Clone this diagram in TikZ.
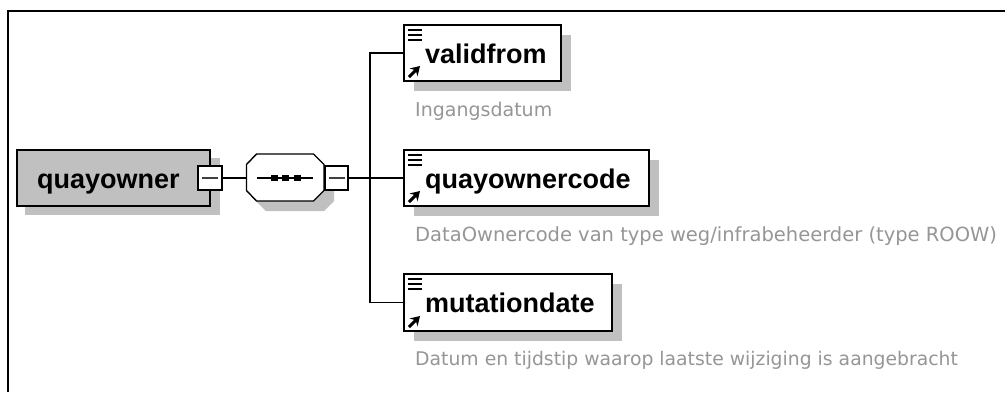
\documentclass[tikz,border=0pt]{standalone}
\usetikzlibrary{arrows.meta}
\usepackage{fontspec}
\setmainfont{Liberation Sans}
\newfontfamily\descfont{DejaVu Sans}
\definecolor{shadowgray}{RGB}{192,192,192}
\definecolor{desctext}{RGB}{150,150,150}
\tikzset{
  x=1pt,y=-1pt,
  wire/.style={draw=black,line width=1.4pt},
  boxline/.style={draw=black,line width=2pt,outer sep=0pt},
  shadowfill/.style={fill=shadowgray,draw=none},
  title/.style={font=\fontsize{27}{29}\selectfont\bfseries,text=black,inner sep=0pt,anchor=base west},
  desc/.style={font=\descfont\fontsize{19}{21}\selectfont,text=desctext,inner sep=0pt,anchor=base west},
  minusbox/.style={boxline,fill=white,line width=1.6pt,minimum width=23.5pt,minimum height=24.5pt,inner sep=0pt},
}
\newcommand{\elem}[6]{% name, left, top, right, bottom, text
  \fill[shadowfill] (#2+10,#3+10) rectangle (#4+10,#5+10);
  \node[boxline,fill=white,minimum width=#4-#2,minimum height=#5-#3,inner sep=0pt,anchor=north west] (#1) at (#2,#3) {};
  \foreach \yy in {5,10,15}{\draw[line width=1.6pt] (#2+4,#3+\yy) -- (#2+18,#3+\yy);}
  \draw[line width=3pt,-{Stealth[length=9pt,width=11pt]}] (#2+5,#5-4) -- (#2+16,#5-15);
  \node[title] at (#2+21,#3+38) {#6};
}
\begin{document}
\begin{tikzpicture}
\useasboundingbox (0,0) rectangle (1005,392);
\fill[white] (0,0) rectangle (1005,392);
\coordinate (frameTL) at (8,11);
\coordinate (frameTR) at (1005,11);
\coordinate (frameBL) at (8,392);
\draw[line width=2.4pt] (frameBL) -- (frameTL) -- (frameTR);
% root
\fill[shadowfill] (25,158) rectangle (220,215);
\node[boxline,fill=shadowgray,minimum width=193pt,minimum height=56pt,inner sep=0pt,anchor=north west] (root) at (17,150) {};
\node[title] (rootlabel) at (37,188) {quayowner};
\node[minusbox] (rootminus) at (210,178) {};
\draw[wire,draw=black!75] (rootminus.center)+(-8,0) -- +(8,0);
% sequence
\fill[shadowfill] (266,164) -- (324,164) -- (334,174) -- (334,201) -- (324,211) -- (266,211) -- (256,201) -- (256,174) -- cycle;
\draw[wire,fill=white] (256.5,154) -- (313.5,154) -- (324,164.5) -- (324,190.5) -- (313.5,201) -- (256.5,201) -- (246.5,190.5) -- (246.5,164.5) -- cycle;
\coordinate (seqW) at (246.5,178);
\draw[wire] (257,178) -- (313,178);
\foreach \xx in {274.5,285.5,297} \fill (\xx-3.5,174.7) rectangle (\xx+3.5,181.3);
\node[minusbox] (seqminus) at (336.5,178) {};
\draw[wire,draw=black!75] (seqminus.center)+(-8,0) -- +(8,0);
\draw[wire] (rootminus.east) -- (seqW);
% children
\elem{a}{404}{25}{561}{81}{validfrom}
\elem{b}{404}{150}{649}{206}{quayownercode}
\elem{c}{404}{274}{612}{331}{mutationdate}
\coordinate (bus) at (370,178);
\draw[wire] (a.west) -- (bus |- a.west) -- (bus |- c.west) -- (c.west);
\draw[wire] (seqminus.east) -- (b.west);
\node[desc] (da) at (415,116) {Ingangsdatum};
\node[desc,font=\descfont\fontsize{19.5}{21}\selectfont] (db) at (415,241) {DataOwnercode van type weg/infrabeheerder (type ROOW)};
\node[desc,font=\descfont\fontsize{18.8}{21}\selectfont] (dc) at (415,365) {Datum en tijdstip waarop laatste wijziging is aangebracht};
\end{tikzpicture}
\end{document}
